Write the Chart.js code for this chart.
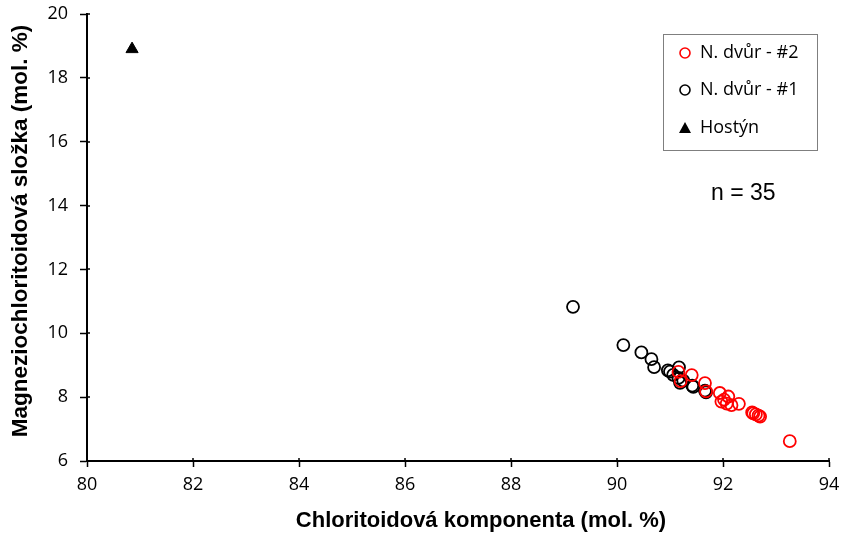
<!DOCTYPE html>
<html>
<head>
<meta charset="utf-8">
<script src="https://cdn.jsdelivr.net/npm/chart.js@4.4.1/dist/chart.umd.min.js"></script>
<style>
html,body{margin:0;padding:0;background:#fff;}
#wrap{width:843px;height:533px;position:relative;}
</style>
</head>
<body>
<div id="wrap"><canvas id="c" width="843" height="533"></canvas></div>
<script>
// Data
const ndvur2X = [91.16,91.41,91.66,91.68,91.94,92.10,91.97,92.07,92.16,92.30,92.55,92.57,92.62,92.67,92.70,93.26,91.20,92.02];
const ndvur2Y = [8.79,8.69,8.44,8.18,8.13,8.02,7.86,7.80,7.75,7.79,7.52,7.49,7.46,7.42,7.39,6.62,8.50,7.92];
const ndvur1X = [89.17,90.12,90.46,90.65,90.70,90.96,91.00,91.17,91.06,91.16,91.25,91.19,91.42,91.44,91.68,91.66];
const ndvur1Y = [10.83,9.63,9.40,9.19,8.94,8.84,8.80,8.93,8.70,8.60,8.52,8.45,8.36,8.32,8.15,8.20];
const hostynX = [80.85];
const hostynY = [18.9];
const seriesNames = ["N. dvůr - #2","N. dvůr - #1","Hostýn"];
const xTitle = "Chloritoidová komponenta (mol. %)";
const yTitle = "Magneziochloritoidová složka (mol. %)";
const note = "n = 35";

const pts = (xs, ys) => xs.map((x,i)=>({x:x, y:ys[i]}));
const tickFont = '"Open Sans", "Noto Sans", sans-serif';

const overlay = {
  id:'overlay',
  afterDraw(chart){
    const ctx = chart.ctx;
    const ca = chart.chartArea;
    const xs = chart.scales.x, ys = chart.scales.y;
    ctx.save();
    // inner halves of crossing tick marks
    ctx.strokeStyle = '#000';
    ctx.lineWidth = 1.5;
    ctx.beginPath();
    xs.ticks.forEach(t => { const p = Math.round(xs.getPixelForValue(t.value)); ctx.moveTo(p, ca.bottom); ctx.lineTo(p, ca.bottom-3); });
    ys.ticks.forEach(t => { const p = Math.round(ys.getPixelForValue(t.value)); ctx.moveTo(ca.left, p); ctx.lineTo(ca.left+3, p); });
    ctx.stroke();
    // titles
    ctx.fillStyle = '#000';
    ctx.font = 'bold 22px "Liberation Sans", Arial, sans-serif';
    ctx.textAlign = 'center';
    ctx.textBaseline = 'middle';
    ctx.fillText(xTitle, 481, 521);
    ctx.save();
    ctx.translate(21, 231);
    ctx.rotate(-Math.PI/2);
    ctx.font = 'bold 22.5px "Liberation Sans", Arial, sans-serif';
    ctx.fillText(yTitle, 0, 0);
    ctx.restore();
    // note
    ctx.font = '23px "Liberation Sans", Arial, sans-serif';
    ctx.textAlign = 'left';
    ctx.fillText(note, 711, 194);
    // legend
    ctx.strokeStyle = '#7f7f7f';
    ctx.lineWidth = 1;
    ctx.strokeRect(663.5, 34.5, 154, 116);
    const rows = [53, 90, 128];
    chart.data.datasets.forEach((ds, i) => {
      const y = rows[i];
      ctx.beginPath();
      if (ds.pointStyle === 'triangle') {
        ctx.fillStyle = '#000';
        ctx.moveTo(685, y-6); ctx.lineTo(691, y+5); ctx.lineTo(679, y+5); ctx.closePath();
        ctx.fill();
      } else {
        ctx.strokeStyle = ds.borderColor;
        ctx.lineWidth = 1.6;
        ctx.arc(685, y, 5, 0, Math.PI*2);
        ctx.stroke();
      }
      ctx.fillStyle = '#000';
      ctx.font = '18px ' + tickFont;
      ctx.textAlign = 'left';
      ctx.textBaseline = 'middle';
      ctx.fillText(ds.label, 700, y);
    });
    ctx.restore();
  }
};

new Chart(document.getElementById('c'), {
  type: 'scatter',
  data: {
    datasets: [
      {label: seriesNames[0], data: pts(ndvur2X, ndvur2Y), pointStyle:'circle', pointRadius:6, borderColor:'#ff0000', backgroundColor:'rgba(0,0,0,0)', borderWidth:1.8, pointHoverRadius:6},
      {label: seriesNames[1], data: pts(ndvur1X, ndvur1Y), pointStyle:'circle', pointRadius:6, borderColor:'#000000', backgroundColor:'rgba(0,0,0,0)', borderWidth:1.8, pointHoverRadius:6},
      {label: seriesNames[2], data: pts(hostynX, hostynY), pointStyle:'triangle', pointRadius:7, borderColor:'#000000', backgroundColor:'#000000', borderWidth:1, pointHoverRadius:7}
    ]
  },
  options: {
    responsive:false,
    animation:false,
    layout:{padding:{top:14, right:14, left:0, bottom:0}},
    plugins:{legend:{display:false}, tooltip:{enabled:false}},
    scales:{
      x:{
        type:'linear', min:80, max:94,
        afterFit(s){ s.height = 72; s.paddingLeft = 0; s.paddingRight = 0; },
        ticks:{stepSize:2, color:'#000', padding:7, font:{family:tickFont, size:18}},
        grid:{drawOnChartArea:false, tickLength:6, color:'#000', tickColor:'#000', tickWidth:1.5},
        border:{display:true, color:'#000', width:2}
      },
      y:{
        type:'linear', min:6, max:20,
        afterFit(s){ s.width = 87; s.paddingTop = 0; s.paddingBottom = 0; },
        ticks:{stepSize:2, color:'#000', padding:12, font:{family:tickFont, size:18}},
        grid:{drawOnChartArea:false, tickLength:7, color:'#000', tickColor:'#000', tickWidth:1.5},
        border:{display:true, color:'#000', width:2}
      }
    }
  },
  plugins:[overlay]
});
</script>
</body>
</html>
